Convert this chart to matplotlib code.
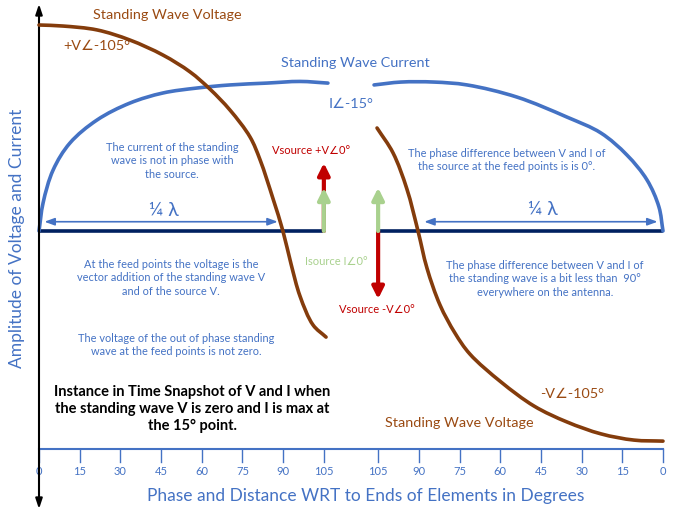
import numpy as np
import matplotlib
matplotlib.use("Agg")
import matplotlib.pyplot as plt
from matplotlib.path import Path
from matplotlib.patches import PathPatch

plt.rcParams["font.family"] = ["Lato", "DejaVu Sans"]

# ---- data (degrees from element end, relative amplitude) ----
V_LEFT_DEG = [0, 8.8, 21.4, 33.5, 45.7, 55.7, 63.0, 70.4, 77.8, 81.5, 86.3, 89.9, 92.9, 96.2, 101.0, 105.8]
V_LEFT_AMP = [1.0, 0.995, 0.976, 0.927, 0.854, 0.772, 0.689, 0.587, 0.456, 0.345, 0.155, 0.0, -0.160, -0.316, -0.456, -0.515]
V_RIGHT_DEG = [105.4, 99.5, 94.4, 90.3, 87.0, 82.2, 76.7, 71.2, 59.7, 47.5, 35.4, 22.8, 10.7, 0]
V_RIGHT_AMP = [0.50, 0.379, 0.204, 0.0, -0.180, -0.359, -0.495, -0.597, -0.733, -0.850, -0.927, -0.985, -1.015, -1.02]
I_LEFT_DEG = [0, 1.5, 5.2, 11.4, 21.4, 33.5, 45.7, 58.2, 70.4, 84.0, 96.2, 106.5]
I_LEFT_AMP = [0, 0.136, 0.296, 0.427, 0.539, 0.621, 0.670, 0.694, 0.709, 0.718, 0.726, 0.718]
I_RIGHT_DEG = [106.5, 96.6, 84.4, 72.2, 53.8, 35.4, 22.9, 13.3, 5.9, 1.5, 0]
I_RIGHT_AMP = [0.709, 0.723, 0.723, 0.709, 0.650, 0.553, 0.476, 0.369, 0.248, 0.117, 0]
ELEMENT_DEG = [0, 105]
TICKS = [0, 15, 30, 45, 60, 75, 90, 105]
V_SOURCE = 0.33
I_SOURCE = 0.21
QUARTER = [2, 88]

GAP = 20  # degrees of gap between the two elements
RIGHT_END = 2 * 105 + GAP

BROWN = "#843C0C"
BROWN_TXT = "#9A4A12"
BLUE = "#4472C4"
NAVY = "#002060"
RED = "#C00000"
GREEN = "#A9D18E"


def right(d):
    return RIGHT_END - np.asarray(d, dtype=float)


W, H = 674, 519
fig = plt.figure(figsize=(W / 100, H / 100), dpi=100)
ax = fig.add_axes([0, 0, 1, 1])
PXD = 2.713  # pixels per degree
PXA = 206    # pixels per amplitude unit
ax.set_xlim(-39 / PXD, (W - 39) / PXD)
ax.set_ylim(-(H - 231) / PXA, 231 / PXA)
ax.axis("off")


def P(x, y):
    return ((x - 39) / PXD, (231 - y) / PXA)


def smooth_curve(xs, ys, color, z):
    # centripetal Catmull-Rom through the read points, drawn as cubic Beziers
    pts = np.column_stack([np.asarray(xs, float) * PXD, np.asarray(ys, float) * PXA])
    ext = np.vstack([2 * pts[0] - pts[1], pts, 2 * pts[-1] - pts[-2]])
    verts = [pts[0]]
    codes = [Path.MOVETO]
    for i in range(1, len(ext) - 2):
        p0, p1, p2, p3 = ext[i - 1], ext[i], ext[i + 1], ext[i + 2]
        d0 = np.linalg.norm(p1 - p0) ** 0.5
        d1 = np.linalg.norm(p2 - p1) ** 0.5
        d2 = np.linalg.norm(p3 - p2) ** 0.5
        m1 = ((p1 - p0) / d0 - (p2 - p0) / (d0 + d1) + (p2 - p1) / d1) * d1
        m2 = ((p2 - p1) / d1 - (p3 - p1) / (d1 + d2) + (p3 - p2) / d2) * d1
        verts += [p1 + m1 / 3, p2 - m2 / 3, p2]
        codes += [Path.CURVE4] * 3
    verts = np.array(verts) / [PXD, PXA]
    ax.add_patch(PathPatch(Path(verts, codes), fill=False, edgecolor=color, lw=2.6,
                           capstyle="round", zorder=z))


# antenna elements
ax.plot(ELEMENT_DEG, [0, 0], color=NAVY, lw=2.6, solid_capstyle="butt", zorder=2)
ax.plot(right(ELEMENT_DEG), [0, 0], color=NAVY, lw=2.6, solid_capstyle="butt", zorder=2)

# standing waves
smooth_curve(I_LEFT_DEG, I_LEFT_AMP, BLUE, 3)
smooth_curve(right(I_RIGHT_DEG), I_RIGHT_AMP, BLUE, 3)
smooth_curve(V_LEFT_DEG, V_LEFT_AMP, BROWN, 4)
smooth_curve(right(V_RIGHT_DEG), V_RIGHT_AMP, BROWN, 4)


# source arrows
def src_arrow(x, y0, y1, color, z):
    ax.annotate("", xy=(x, y1), xytext=(x, y0),
                arrowprops=dict(arrowstyle="-|>,head_length=0.7,head_width=0.35",
                                color=color, lw=3, shrinkA=0, shrinkB=0), zorder=z)


src_arrow(ELEMENT_DEG[1], 0, V_SOURCE, RED, 5)
src_arrow(ELEMENT_DEG[1], 0, I_SOURCE, GREEN, 6)
src_arrow(right(ELEMENT_DEG[1]), 0, -V_SOURCE, RED, 5)
src_arrow(right(ELEMENT_DEG[1]), 0, I_SOURCE, GREEN, 6)

# quarter wave arrows
qy = 0.045
for a, b in [(QUARTER[0], QUARTER[1]), tuple(right(QUARTER[::-1]))]:
    ax.annotate("", xy=(a, qy), xytext=(b, qy),
                arrowprops=dict(arrowstyle="<|-|>,head_length=0.6,head_width=0.22",
                                color=BLUE, lw=1.2, shrinkA=0, shrinkB=0))
ax.text(*P(164, 211), "¼ λ", color=BLUE, fontsize=14, ha="center", va="center")
ax.text(*P(543, 210), "¼ λ", color=BLUE, fontsize=14, ha="center", va="center")

# x axis
ya, yt = (231 - 449) / PXA, (231 - 462) / PXA
ax.plot([0, RIGHT_END], [ya, ya], color=BLUE, lw=1.5, zorder=2)
for t in TICKS:
    for xt in (t, RIGHT_END - t):
        ax.plot([xt, xt], [ya, yt], color=BLUE, lw=1.0)
        ax.text(xt, (231 - 472) / PXA, str(t), color=BLUE, fontsize=8, ha="center", va="center")

# y axis (double arrow)
for tip in (4, 509):
    ax.annotate("", xy=P(39, tip), xytext=P(39, 256),
                arrowprops=dict(arrowstyle="-|>,head_length=0.6,head_width=0.2",
                                color="black", lw=1.5, shrinkA=0, shrinkB=0))

ax.text(*P(366, 496), "Phase and Distance WRT to Ends of Elements in Degrees",
        color=BLUE, fontsize=12.5, ha="center", va="center")
ax.text(*P(17, 238), "Amplitude of Voltage and Current", color=BLUE, fontsize=12.5,
        ha="center", va="center", rotation=90)

# curve labels
ax.text(*P(167, 15), "Standing Wave Voltage", color=BROWN_TXT, fontsize=10.4, ha="center", va="center")
ax.text(*P(459, 423), "Standing Wave Voltage", color=BROWN_TXT, fontsize=10.4, ha="center", va="center")
ax.text(*P(97, 46), "+V∠-105°", color=BROWN_TXT, fontsize=10.4, ha="center", va="center")
ax.text(*P(572, 394), "-V∠-105°", color=BROWN_TXT, fontsize=10.4, ha="center", va="center")
ax.text(*P(355, 63), "Standing Wave Current", color=BLUE, fontsize=10.4, ha="center", va="center")
ax.text(*P(351, 104), "I∠-15°", color=BLUE, fontsize=10.4, ha="center", va="center")
ax.text(*P(311, 151), "Vsource +V∠0°", color=RED, fontsize=8, ha="center", va="center")
ax.text(*P(336, 262), "Isource I∠0°", color=GREEN, fontsize=8, ha="center", va="center")
ax.text(*P(377, 310), "Vsource -V∠0°", color=RED, fontsize=8, ha="center", va="center")

# notes
notes = [
    ((172, 161), "The current of the standing\nwave is not in phase with\nthe source."),
    ((507, 160), "The phase difference between V and I of\nthe source at the feed points is is 0°."),
    ((171, 278), "At the feed points the voltage is the\nvector addition of the standing wave V\nand of the source V."),
    ((176, 345), "The voltage of the out of phase standing\nwave at the feed points is not zero."),
    ((545, 279), "The phase difference between V and I of\nthe standing wave is a bit less than  90°\neverywhere on the antenna."),
]
for (x, y), s in notes:
    ax.text(*P(x, y), s, color=BLUE, fontsize=7.9, ha="center", va="center", linespacing=1.25)

ax.text(*P(192, 409), "Instance in Time Snapshot of V and I when\nthe standing wave V is zero and I is max at\nthe 15° point.",
        color="black", fontsize=10.5, fontweight="bold", ha="center", va="center", linespacing=1.25)

fig.savefig("out.png", dpi=100)
